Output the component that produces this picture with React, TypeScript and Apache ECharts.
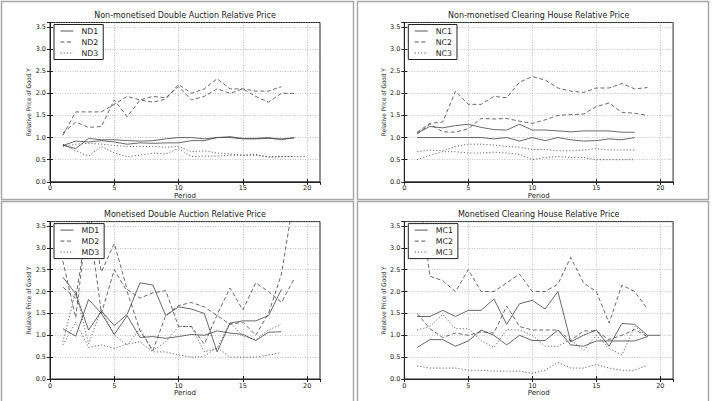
import React, { useEffect, useRef } from "react";
import * as echarts from "echarts";

// Relative price of good Y per trading period, two runs per treatment
const ND1a = [0.83, 0.75, 0.98, 0.95, 0.95, 0.93, 0.92, 0.93, 0.97, 1.0, 1.0, 0.97, 1.0, 1.02, 0.98, 0.98, 1.0, 0.95, 1.0];
const ND1b = [0.82, 0.92, 0.9, 0.93, 0.9, 0.85, 0.88, 0.87, 0.88, 0.88, 0.93, 0.93, 1.0, 1.0, 0.97, 0.97, 0.98, 0.97, 0.99];
const ND2a = [1.05, 1.58, 1.58, 1.58, 1.75, 1.93, 1.85, 1.8, 1.87, 2.2, 2.0, 2.1, 2.33, 2.1, 2.1, 2.05, 2.05, 2.15];
const ND2b = [1.1, 1.35, 1.23, 1.25, 1.85, 1.47, 1.85, 1.93, 1.9, 2.15, 1.85, 1.93, 2.1, 2.0, 2.1, 1.93, 1.8, 2.0, 2.0];
const ND3a = [0.85, 0.7, 0.58, 0.8, 0.65, 0.57, 0.6, 0.65, 0.63, 0.75, 0.57, 0.58, 0.58, 0.6, 0.6, 0.62, 0.55, 0.57, 0.57, 0.57];
const ND3b = [0.8, 0.85, 0.87, 0.85, 0.82, 0.8, 0.8, 0.8, 0.78, 0.8, 0.68, 0.7, 0.65, 0.63, 0.6, 0.6, 0.57, 0.57, 0.57];

const NC1a = [1.0, 1.0, 1.0, 1.0, 1.0, 1.0, 0.97, 1.0, 0.92, 1.0, 0.93, 1.0, 0.95, 0.92, 0.93, 0.97, 0.95, 1.0];
const NC1b = [1.1, 1.25, 1.22, 1.27, 1.3, 1.23, 1.18, 1.17, 1.3, 1.17, 1.17, 1.15, 1.13, 1.15, 1.15, 1.15, 1.12, 1.12];
const NC2a = [1.12, 1.32, 1.35, 2.05, 1.75, 1.75, 1.93, 1.9, 2.25, 2.38, 2.3, 2.12, 2.05, 2.02, 2.12, 2.12, 2.22, 2.1, 2.13];
const NC2b = [1.08, 1.3, 1.13, 1.12, 1.2, 1.43, 1.42, 1.43, 1.37, 1.32, 1.4, 1.5, 1.52, 1.53, 1.7, 1.78, 1.57, 1.55, 1.5];
const NC3a = [0.68, 0.72, 0.7, 0.8, 0.85, 0.85, 0.83, 0.8, 0.78, 0.73, 0.73, 0.7, 0.7, 0.72, 0.75, 0.72, 0.72, 0.72];
const NC3b = [0.5, 0.6, 0.68, 0.68, 0.65, 0.65, 0.67, 0.65, 0.62, 0.5, 0.55, 0.57, 0.55, 0.55, 0.5, 0.5, 0.5, 0.5];

const MD1a = [2.33, 1.95, 1.12, 1.55, 1.22, 1.48, 2.2, 2.15, 1.45, 1.65, 1.6, 1.5, 0.62, 1.28, 1.33, 1.33, 1.45, 2.05];
const MD1b = [1.15, 0.98, 1.82, 1.5, 1.02, 1.45, 0.95, 0.97, 0.93, 0.97, 1.02, 1.0, 1.1, 1.05, 1.02, 0.88, 1.07, 1.08];
const MD2a = [2.7, 1.4, 3.9, 2.45, 3.1, 2.05, 1.85, 1.97, 2.02, 1.2, 1.2, 0.8, 1.47, 2.08, 1.58, 2.2, 2.0, 1.75, 2.3];
const MD2b = [2.1, 1.85, 3.7, 1.5, 2.5, 2.0, 1.1, 0.65, 1.45, 1.68, 1.75, 1.65, 1.45, 1.25, 1.3, 1.0, 1.5, 2.4, 4.2];
const MD3a = [0.78, 1.3, 0.72, 0.78, 0.7, 0.8, 0.85, 0.62, 0.62, 0.55, 0.5, 0.52, 0.72, 0.5, 0.5, 0.5, 0.55, 0.6];
const MD3b = [0.85, 2.0, 0.8, 1.6, 1.0, 0.78, 1.15, 0.65, 0.85, 1.2, 1.2, 0.62, 0.7, 1.3, 0.98, 0.9, 1.12, 1.25];

const MC1a = [1.43, 1.43, 1.57, 1.43, 1.57, 1.57, 1.83, 1.25, 1.72, 1.8, 1.6, 2.0, 0.85, 1.0, 1.12, 0.75, 1.27, 1.25, 1.0, 1.0];
const MC1b = [0.72, 0.9, 0.9, 0.75, 0.87, 1.12, 1.0, 0.78, 1.0, 0.88, 0.88, 1.12, 0.78, 0.75, 0.87, 0.87, 0.87, 0.87, 0.97];
const MC2a = [4.7, 2.35, 2.25, 2.0, 2.5, 2.0, 2.0, 2.2, 2.4, 2.0, 2.0, 2.17, 2.78, 2.2, 2.0, 1.28, 2.15, 2.0, 1.6];
const MC2b = [1.5, 1.15, 0.95, 1.05, 1.0, 1.08, 1.05, 1.67, 1.2, 1.12, 1.12, 1.12, 0.88, 1.1, 1.1, 0.9, 1.0, 1.13, 0.97];
const MC3a = [1.12, 1.2, 1.48, 1.15, 1.15, 0.88, 0.72, 1.13, 1.12, 1.0, 0.75, 0.75, 0.9, 0.65, 1.0, 0.7, 0.55, 1.2, 0.97];
const MC3b = [0.3, 0.25, 0.25, 0.25, 0.2, 0.2, 0.18, 0.18, 0.18, 0.13, 0.2, 0.38, 0.25, 0.25, 0.33, 0.25, 0.2, 0.2, 0.32];

const TITLES = [
  "Non-monetised Double Auction Relative Price",
  "Non-monetised Clearing House Relative Price",
  "Monetised Double Auction Relative Price",
  "Monetised Clearing House Relative Price",
];
const LEGENDS = [
  ["ND1", "ND2", "ND3"],
  ["NC1", "NC2", "NC3"],
  ["MD1", "MD2", "MD3"],
  ["MC1", "MC2", "MC3"],
];
const RUNS = [
  [[ND1a, ND1b], [ND2a, ND2b], [ND3a, ND3b]],
  [[NC1a, NC1b], [NC2a, NC2b], [NC3a, NC3b]],
  [[MD1a, MD1b], [MD2a, MD2b], [MD3a, MD3b]],
  [[MC1a, MC1b], [MC2a, MC2b], [MC3a, MC3b]],
];

const X_MAX = 21;
const Y_MAX = 3.6;
const FONT = "DejaVu Sans";
const INK = "#222";
const LINE = "#444";

const GRIDS = [
  { left: 50, top: 22.5, width: 270, height: 159.3 },
  { left: 404.3, top: 22.5, width: 268.8, height: 159.3 },
  { left: 50, top: 221.6, width: 270, height: 157.4 },
  { left: 404.3, top: 221.6, width: 268.8, height: 157.4 },
];
const FRAMES = [
  { x: 1.5, y: 1.5, width: 352, height: 198 },
  { x: 357.5, y: 1.5, width: 351, height: 198 },
  { x: 1.5, y: 201.5, width: 352, height: 205 },
  { x: 357.5, y: 201.5, width: 351, height: 205 },
];
const DASHES: any[] = ["solid", [4, 2.5], [1.2, 2]];

function buildOption() {
  const grid = GRIDS.map((g) => ({
    ...g,
    show: true,
    borderColor: INK,
    borderWidth: 1,
    backgroundColor: "transparent",
  }));
  const gridLine = { show: true, lineStyle: { type: [1, 1.5], color: "#9a9a9a", width: 0.6 } };
  const tick = { show: true, inside: true, length: 3, lineStyle: { color: INK } };

  // bottom and left axes carry the labels; top and right mirror the ticks only
  const xAxis: any[] = [];
  const yAxis: any[] = [];
  GRIDS.forEach((_, i) => {
    xAxis.push({
      type: "value",
      gridIndex: i,
      min: 0,
      max: X_MAX,
      interval: 5,
      axisLine: { show: true, lineStyle: { color: INK, width: 1 } },
      axisTick: tick,
      axisLabel: { fontSize: 6.5, color: INK, margin: 3, fontFamily: FONT, showMaxLabel: false },
      splitLine: gridLine,
      name: "Period",
      nameLocation: "middle",
      nameGap: 9.5,
      nameTextStyle: { fontSize: 7, color: INK, fontFamily: FONT },
    });
    yAxis.push({
      type: "value",
      gridIndex: i,
      min: 0,
      max: Y_MAX,
      interval: 0.5,
      axisLine: { show: true, lineStyle: { color: INK, width: 1 } },
      axisTick: tick,
      axisLabel: {
        fontSize: 6.5,
        color: INK,
        margin: 4,
        fontFamily: FONT,
        showMaxLabel: false,
        formatter: (v: number) => v.toFixed(1),
      },
      splitLine: gridLine,
      name: "Relative Price of Good Y",
      nameLocation: "middle",
      nameRotate: 90,
      nameGap: 18,
      nameTextStyle: { fontSize: 6.3, color: INK, fontFamily: "DejaVu Sans Condensed, DejaVu Sans" },
    });
  });
  GRIDS.forEach((_, i) => {
    xAxis.push({
      type: "value",
      gridIndex: i,
      position: "top",
      min: 0,
      max: X_MAX,
      interval: 5,
      axisLine: { show: false },
      axisTick: tick,
      axisLabel: { show: false },
      splitLine: { show: false },
    });
    yAxis.push({
      type: "value",
      gridIndex: i,
      position: "right",
      min: 0,
      max: Y_MAX,
      interval: 0.5,
      axisLine: { show: false },
      axisTick: tick,
      axisLabel: { show: false },
      splitLine: { show: false },
    });
  });

  const title = TITLES.map((t, i) => ({
    text: t,
    left: GRIDS[i].left + GRIDS[i].width / 2,
    top: GRIDS[i].top - 11,
    textAlign: "center",
    padding: 0,
    textStyle: { fontSize: 8, fontWeight: "normal", color: INK, fontFamily: FONT },
  }));
  const legend = LEGENDS.map((names, i) => ({
    data: names,
    orient: "vertical",
    left: GRIDS[i].left + 4,
    top: GRIDS[i].top + 2,
    itemWidth: 13,
    itemHeight: 7,
    itemGap: 3,
    padding: [2.5, 5, 2.5, 6],
    borderColor: INK,
    borderWidth: 1,
    backgroundColor: "#fff",
    selectedMode: false,
    lineStyle: { width: 0.9 },
    itemStyle: { color: "rgba(0,0,0,0)", borderWidth: 0, opacity: 0 },
    textStyle: { fontSize: 7.8, color: INK, fontFamily: FONT, padding: [0, 0, 0, 3] },
  }));
  const series: any[] = [];
  RUNS.forEach((panel, i) => {
    panel.forEach((runs, k) => {
      runs.forEach((vals) => {
        series.push({
          type: "line",
          name: LEGENDS[i][k],
          xAxisIndex: i,
          yAxisIndex: i,
          symbol: "none",
          showSymbol: false,
          clip: true,
          data: vals.map((v, j) => [j + 1, v]),
          lineStyle: { color: LINE, width: 0.8, type: DASHES[k] },
          itemStyle: { color: LINE },
        });
      });
    });
  });
  const graphic = FRAMES.map((f) => ({
    type: "rect",
    shape: f,
    silent: true,
    style: { fill: "none", stroke: "#a8a8a8", lineWidth: 1.5 },
  }));
  return { animation: false, backgroundColor: "#fff", grid, xAxis, yAxis, title, legend, series, graphic };
}

export default function App() {
  const ref = useRef<HTMLDivElement>(null);
  useEffect(() => {
    if (!ref.current) return;
    const chart = echarts.init(ref.current, undefined, { renderer: "svg" });
    chart.setOption(buildOption() as any);
    return () => chart.dispose();
  }, []);
  return (
    <div
      ref={ref}
      style={{ position: "fixed", left: 0, top: 0, width: 712, height: 401, background: "#fff" }}
    />
  );
}
